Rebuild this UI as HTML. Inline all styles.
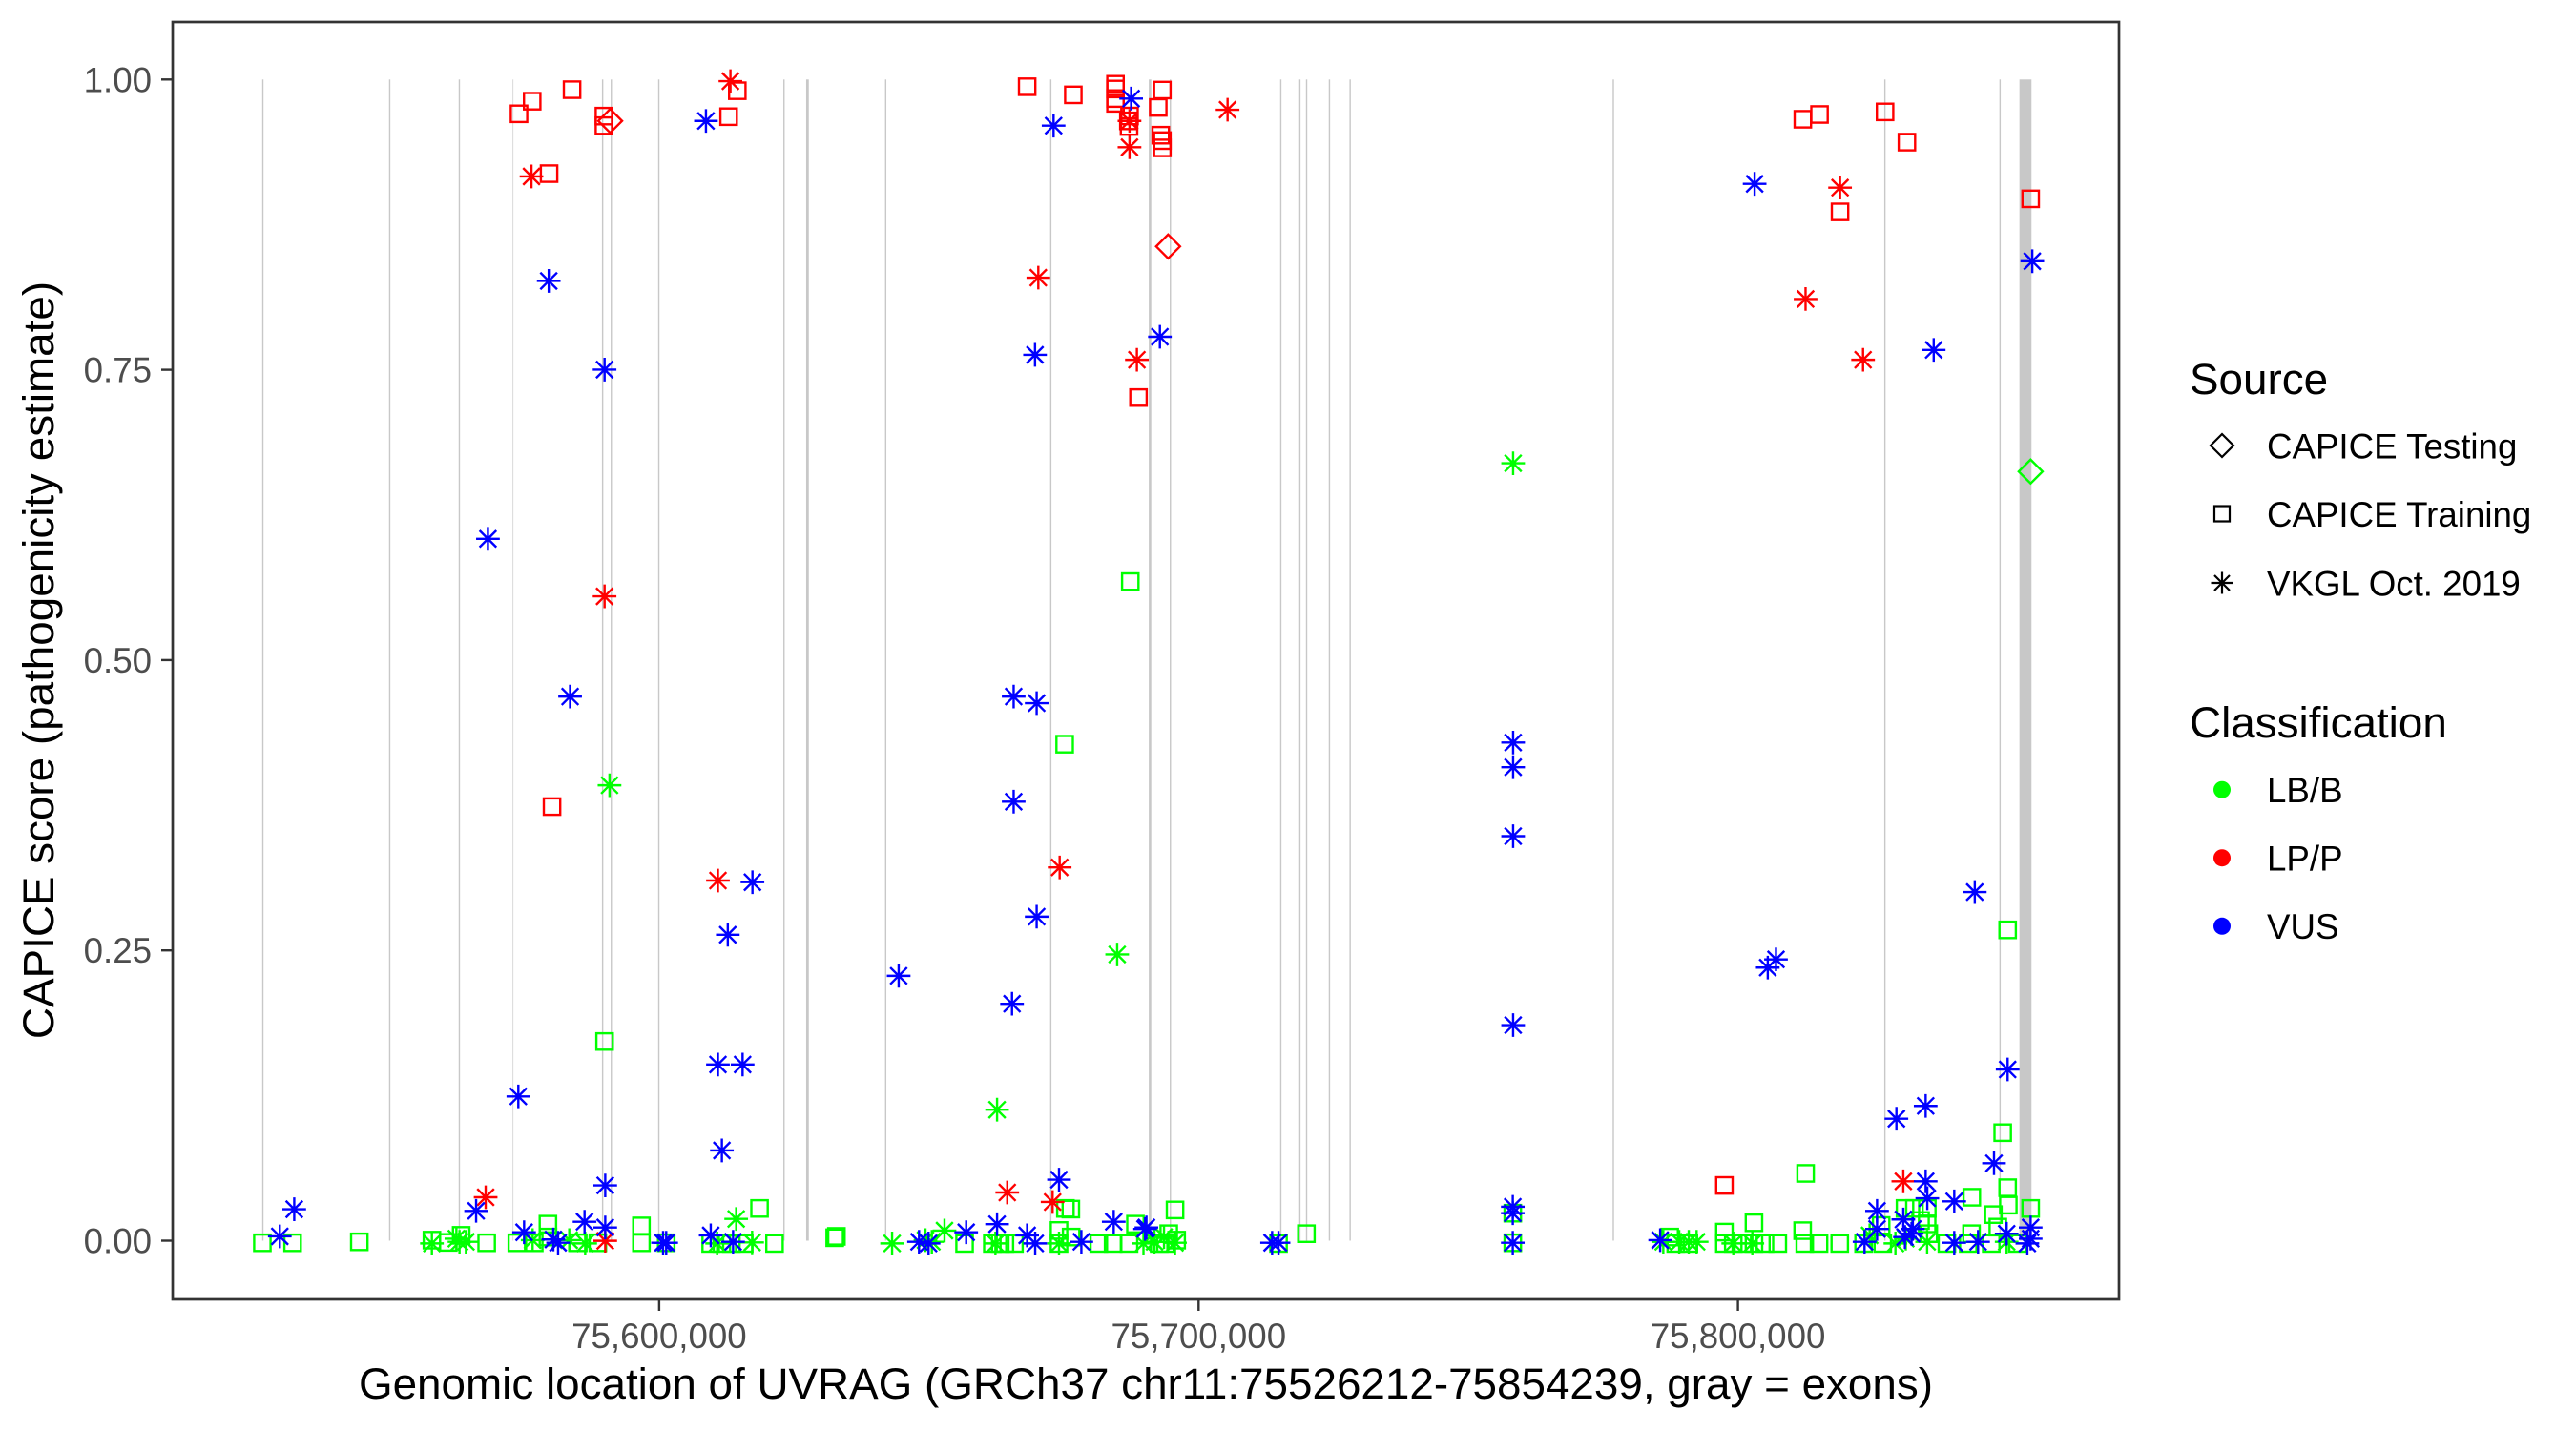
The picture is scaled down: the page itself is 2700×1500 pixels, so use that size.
<!DOCTYPE html>
<html><head><meta charset="utf-8"><title>UVRAG CAPICE chart</title>
<style>
html,body{margin:0;padding:0;background:#fff;}
svg{display:block}
text{font-family:"Liberation Sans",Arial,sans-serif;}
</style></head><body>
<svg id="s" xmlns="http://www.w3.org/2000/svg" width="2700" height="1500" viewBox="0 0 2700 1500">
<rect width="2700" height="1500" fill="#fff"/>
<g id="exons"></g>
<g id="pts" fill="none" stroke-width="2.4"></g>
<rect x="181" y="23" width="2040" height="1339" fill="none" stroke="#333333" stroke-width="2.7"/>
<g stroke="#333333" stroke-width="2.4">
<line x1="169" y1="83.3" x2="181" y2="83.3"/>
<line x1="169" y1="387.6" x2="181" y2="387.6"/>
<line x1="169" y1="691.9" x2="181" y2="691.9"/>
<line x1="169" y1="996.2" x2="181" y2="996.2"/>
<line x1="169" y1="1300.5" x2="181" y2="1300.5"/>
<line x1="690.9" y1="1362" x2="690.9" y2="1374"/>
<line x1="1256.3" y1="1362" x2="1256.3" y2="1374"/>
<line x1="1821.6" y1="1362" x2="1821.6" y2="1374"/>
</g>
<g fill="#4D4D4D" font-size="36.7" text-anchor="end">
<text x="159" y="96.3">1.00</text>
<text x="159" y="400.6">0.75</text>
<text x="159" y="704.9">0.50</text>
<text x="159" y="1009.2">0.25</text>
<text x="159" y="1313.5">0.00</text>
</g>
<g fill="#4D4D4D" font-size="36.7" text-anchor="middle">
<text x="690.9" y="1413">75,600,000</text>
<text x="1256.3" y="1413">75,700,000</text>
<text x="1821.6" y="1413">75,800,000</text>
</g>
<text x="1201" y="1466" font-size="45.8" text-anchor="middle" fill="#000">Genomic location of UVRAG (GRCh37 chr11:75526212-75854239, gray = exons)</text>
<text transform="translate(56,692) rotate(-90)" font-size="45.8" text-anchor="middle" fill="#000">CAPICE score (pathogenicity estimate)</text>
<text x="2295" y="413" font-size="45.8" fill="#000">Source</text>
<g fill="none" stroke="#000" stroke-width="2.2">
<path d="M2329,455 L2341,467 L2329,479 L2317,467 Z"/>
<rect x="2321" y="530.5" width="16" height="16"/>
<path d="M2317.5,611 L2340.5,611 M2329,599.5 L2329,622.5 M2321,603 L2337,619 M2321,619 L2337,603"/>
</g>
<g font-size="36.7" fill="#000">
<text x="2376" y="480.5">CAPICE Testing</text>
<text x="2376" y="552">CAPICE Training</text>
<text x="2376" y="624.5">VKGL Oct. 2019</text>
</g>
<text x="2295" y="773" font-size="45.8" fill="#000">Classification</text>
<circle cx="2329" cy="827.7" r="9" fill="#00FF00"/>
<circle cx="2329" cy="899.2" r="9" fill="#FF0000"/>
<circle cx="2329" cy="970.8" r="9" fill="#0000FF"/>
<g font-size="36.7" fill="#000">
<text x="2376" y="841">LB/B</text>
<text x="2376" y="912.5">LP/P</text>
<text x="2376" y="984">VUS</text>
</g>
</svg>
<script>
(function(){
var S=1.722, NS="http://www.w3.org/2000/svg";
function add(p,tag,a){var e=document.createElementNS(NS,tag);for(var k in a)e.setAttribute(k,a[k]);p.appendChild(e);return e;}
var ex=[[160,1.4],[237.2,1.4],[279.6,1.4],[312.2,1.1,"#dddddd"],[366.8,1.4],[372.1,1.4],[401,1.4],[477.2,1.4],[491.5,2.8],[539.1,1.4],[639.6,1.4],[700,2.6],[712.4,1.4],[779.6,1.4],[791.2,1.4],[795.3,1.4],[809.2,1.4],[821.8,1.4],[982,1.4],[1147.3,1.4],[1217.4,1.4],[1232.85,12.6]];
var eg=document.getElementById("exons");
ex.forEach(function(e){var x=e[0]*S;add(eg,"rect",{x:x-e[1]/2,y:83.3,width:e[1],height:1217.2,fill:e[2]||"#c8c8c8"});});
var col={g:"#00FF00",r:"#FF0000",b:"#0000FF"};
var P="g s 159.7 756.5|g s 178.1 756.5|g s 218.7 755.9|g a 262.9 756.9|g s 262.9 754.9|g s 272.9 756.3|g s 280.7 752|g a 277.8 754|g a 279.7 755.9|g a 283.6 755.9|g s 296.2 756.5|g s 314.6 756.5|g a 324.2 754.9|g s 325.2 756.5|g s 333.5 745.2|g s 333.5 753|g a 346.5 754.9|g a 356.2 756.9|g s 352 756.5|g s 363.9 756.5|g s 390.4 746.2|g s 390.4 756.5|g s 405.5 756.5|g s 432.6 756.9|g s 439.4 756.9|g s 445.2 756.9|g s 453 756.9|g a 436.5 756.9|g a 448.1 742|g a 457.8 756.3|g s 462.3 735.6|g s 471.4 756.9|g s 508.1 753.4|g s 509.1 752.6|g a 543 756.9|g a 563.3 754.9|g a 567.2 755.9|g a 574.9 749.1|g s 587.1 756.9|g s 604 756.9|g a 605.9 756.9|g s 608.8 756.9|g s 611.7 756.9|g s 617.5 756.9|g s 648.5 735.6|g s 651.8 736|g s 644.6 749|g s 644.6 756.9|g s 652 753|g a 644.6 756.9|g s 668.8 756.9|g s 677.5 756.9|g s 687.2 756.9|g s 691.1 745.2|g a 696 756.9|g s 715.2 736.5|g s 705.6 756.9|g s 711.4 751|g s 716.2 754.9|g s 709.4 756.9|g a 702.7 755.9|g a 708.5 753|g a 715.2 756.5|g s 778.2 756.9|g s 795.2 751|g s 920.8 738.5|g s 920.8 756.5|g a 1012.4 755.9|g s 1016.3 753|g a 1022.1 755.9|g a 1027.9 755.9|g a 1032.7 755.9|g s 1020 756.9|g s 1028 756.9|g s 1049.6 750|g s 1049.6 756.9|g s 1055 756.9|g s 1060.8 756.9|g s 1067.6 744.3|g s 1067.6 756.9|g s 1074.3 756.9|g s 1082.1 756.9|g a 1055 756.9|g a 1066.6 756.9|g s 1097.2 749.1|g s 1098.5 756.9|g s 1107.2 756.9|g s 1119.8 756.9|g s 1134.3 756.9|g s 1145 746|g s 1146 756.9|g s 1159.5 735.6|g s 1165.3 735.6|g s 1173.1 735.6|g s 1169 743|g s 1173 745|g s 1174 751|g s 1200.2 728.8|g s 1213.3 739.4|g s 1222.4 733.6|g s 1236 735.6|g s 1200 751|g s 1216 747|g s 1185 756.9|g s 1198 756.9|g s 1212 756.9|g s 1228 756.9|g a 1173 755.9|g a 1221.4 755.9|g a 1153.7 756.9|g a 1138 752|g a 1160 754|g d 1236 287|g a 921 282|g s 688 354|g s 648 453|g a 371 478|g a 680 581|g s 1222 566|g s 368 634|g a 606.9 675.5|g s 1219 689.5|g s 1099 714.3|g s 1222 723|r s 315.9 69.3|r s 323.9 61.6|r s 348.2 54.6|r a 323.5 107.4|r s 334.2 105.7|r s 367.6 70.7|r s 367.6 76.5|r d 371.4 73.6|r a 444.6 49.4|r s 448.8 55.2|r s 443.5 71|r s 625.2 52.8|r s 653.3 57.7|r s 679 51.3|r s 679 54.2|r s 679 60|r s 679 62.9|r s 687.5 70.6|r s 686.8 73.6|r s 687.2 77|r a 687.5 73.6|r a 687.5 89.6|r s 707.5 54.8|r s 705 65.4|r s 706.5 82.3|r s 707.5 85.6|r s 707.5 90|r a 747.2 66.8|r s 1097.3 72.6|r s 1107.5 69.7|r s 1147.4 68.1|r s 1160.7 86.5|r a 1120 114.2|r s 1120 129|r s 1236 121|r d 711 150|r a 632 169|r a 1099 182|r a 692 219|r s 693 242|r a 1134 219|r a 368 363|r s 336 491|r a 437 536|r a 645 528|r a 1158.5 719.1|r a 295.6 728.8|r a 368.4 755.3|r a 613.1 725.9|r a 640.7 731.7|r s 1049.6 721.6|b a 170.3 752.6|b a 179.1 736.1|b a 289.8 737.1|b a 319 750.1|b a 336.8 754.5|b a 339.7 756.5|b a 355.8 743.7|b a 368.4 747.2|b a 368.4 721.6|b a 403.6 756.5|b a 405.5 756.5|b a 432.6 752|b a 446.2 755.9|b a 559.4 755.9|b a 565.2 756.9|b a 588.1 750.1|b a 606.9 745.2|b a 625.2 752|b a 630.1 756.9|b a 644.6 718.1|b a 658.2 755.9|b a 677.9 743.7|b a 697 748.1|b a 697.8 747.2|b a 774.3 756.5|b a 778.2 756.5|b a 920.8 734.6|b a 920.8 738.5|b a 920.8 756.5|b a 1010.5 754.9|b a 1134.9 755.9|b a 1142.5 737.1|b a 1142.5 748.1|b a 1172.1 719.1|b a 1173.1 729.4|b a 1158.5 742.3|b a 1164.3 748.1|b a 1189.5 731.3|b a 1189.5 756.5|b a 1204 755.9|b a 1221.4 751|b a 1236 747.2|b a 1236 754|b a 1234 756.9|b a 1159.5 753|b a 1163.5 751|b a 429.7 73.6|b a 688.5 60|b a 641.3 76.5|b a 334 171|b a 630 216|b a 706 205|b a 1177 213|b a 1237 159|b a 368 225|b a 297 328|b a 347 424|b a 617 424|b a 631 428|b a 921 452|b a 921 467|b a 617 488|b a 458 537|b a 921 509|b a 631 558|b a 443 569|b a 547 594|b a 1202 543|b a 1076 589|b a 1081 584|b a 616 611|b a 921 624|b a 315.5 667.4|b a 437 648|b a 452 648|b a 1222 651|b a 1154.3 681|b a 1172.1 673.2|b a 439.4 700.3|b a 1213.7 708.1|b a 1068 111.9";
var pg=document.getElementById("pts");
var h=8.6,a=12.4,dd=8.8,dm=12.5;
P.split("|").forEach(function(line){
  var p=line.split(" ");
  var c=col[p[0]], x=parseFloat(p[2])*S, y=parseFloat(p[3])*S;
  if(p[1]==="s"){add(pg,"rect",{x:(x-h).toFixed(1),y:(y-h).toFixed(1),width:2*h,height:2*h,stroke:c});}
  else if(p[1]==="a"){
    var d="M"+(x-a)+","+y+"L"+(x+a)+","+y+"M"+x+","+(y-a)+"L"+x+","+(y+a)+"M"+(x-dd)+","+(y-dd)+"L"+(x+dd)+","+(y+dd)+"M"+(x-dd)+","+(y+dd)+"L"+(x+dd)+","+(y-dd);
    add(pg,"path",{d:d,stroke:c});
  } else {
    add(pg,"path",{d:"M"+x+","+(y-dm)+"L"+(x+dm)+","+y+"L"+x+","+(y+dm)+"L"+(x-dm)+","+y+"Z",stroke:c});
  }
});
})();
</script>
</body></html>
